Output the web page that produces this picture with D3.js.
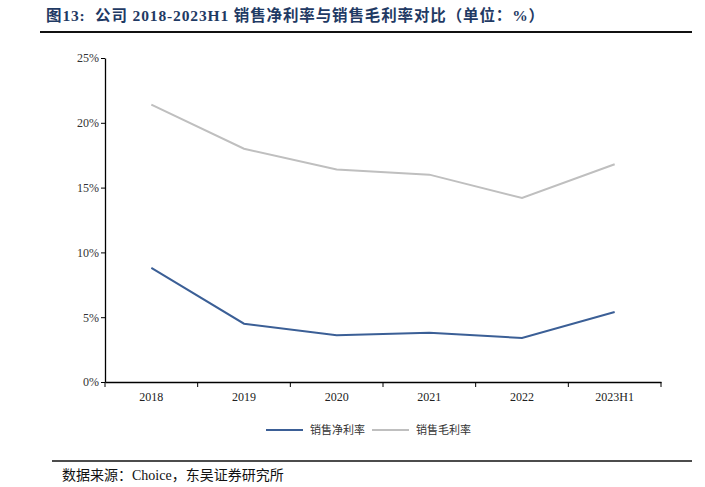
<!DOCTYPE html>
<html><head><meta charset="utf-8">
<script src="https://cdn.jsdelivr.net/npm/d3@7"></script>
<style>body{margin:0;background:#fff}</style>
</head><body>
<svg id="c" width="705" height="487"></svg>
<script>
const categories = ["2018","2019","2020","2021","2022","2023H1"];
const netMargin = [8.8, 4.5, 3.6, 3.8, 3.4, 5.4];
const grossMargin = [21.4, 18.0, 16.4, 16.0, 14.2, 16.8];
const yTicks = [0,5,10,15,20,25];
const seriesNames = ["销售净利率","销售毛利率"];
const colors = ["#3b5f96","#bfbfbf"];

const svg = d3.select("#c");
const serif = "'Liberation Serif','Times New Roman',serif";
const cjk = "'Noto Sans CJK SC',sans-serif";

svg.append("text").attr("x",46).attr("y",21)
  .attr("font-family", serif + "," + cjk).attr("font-weight","bold")
  .attr("font-size",15.5).attr("fill","#1f3a64")
  .attr("textLength",498).attr("lengthAdjust","spacing")
  .attr("xml:space","preserve")
  .text("图13:  公司 2018-2023H1 销售净利率与销售毛利率对比（单位：%）");
svg.append("line").attr("x1",40).attr("x2",692).attr("y1",32).attr("y2",32)
  .attr("stroke","#111").attr("stroke-width",2);

const x = d3.scaleBand().domain(categories).range([105,661]);
const y = d3.scaleLinear().domain([0,25]).range([382,58]);

const yAxis = svg.append("g").attr("transform","translate(105,0)")
  .call(d3.axisLeft(y).tickValues(yTicks).tickFormat(d=>d+"%").tickSize(4).tickSizeOuter(0));
yAxis.select(".domain").attr("stroke","#000").attr("stroke-width",1.3);
yAxis.selectAll(".tick line").attr("stroke","#000");
yAxis.selectAll("text").attr("font-family",serif).attr("font-size",12).attr("fill","#333").attr("x",-6);

const xAxis = svg.append("g").attr("transform","translate(0,382)")
  .call(d3.axisBottom(x).tickSize(0).tickSizeOuter(0));
xAxis.select(".domain").attr("stroke","#000").attr("stroke-width",1.3);
xAxis.selectAll("text").attr("font-family",serif).attr("font-size",12).attr("fill","#222").attr("dy","1.3em");
const bounds = categories.map(c=>x(c)).concat([x.range()[1]]);
svg.append("g").selectAll("line").data(bounds).join("line")
  .attr("x1",d=>d).attr("x2",d=>d).attr("y1",382).attr("y2",387)
  .attr("stroke","#000").attr("stroke-width",1);

const line = d3.line().x((d,i)=>x(categories[i])+x.bandwidth()/2).y(d=>y(d));
[grossMargin, netMargin].forEach((s,k)=>{
  svg.append("path").datum(s).attr("d",line).attr("fill","none")
    .attr("stroke", k===0?colors[1]:colors[0]).attr("stroke-width",2);
});

const lg = [{x:266,name:seriesNames[0],c:colors[0]},{x:372,name:seriesNames[1],c:colors[1]}];
lg.forEach(l=>{
  svg.append("line").attr("x1",l.x).attr("x2",l.x+37).attr("y1",430).attr("y2",430)
    .attr("stroke",l.c).attr("stroke-width",2);
  svg.append("text").attr("x",l.x+44).attr("y",434).attr("font-family",cjk)
    .attr("font-size",11).attr("fill","#333").text(l.name);
});

svg.append("line").attr("x1",52).attr("x2",692).attr("y1",461).attr("y2",461)
  .attr("stroke","#111").attr("stroke-width",1.3);
svg.append("text").attr("x",62).attr("y",480).attr("font-family",serif+","+cjk)
  .attr("font-size",14).attr("fill","#111").text("数据来源：Choice，东吴证券研究所");
</script>
</body></html>
